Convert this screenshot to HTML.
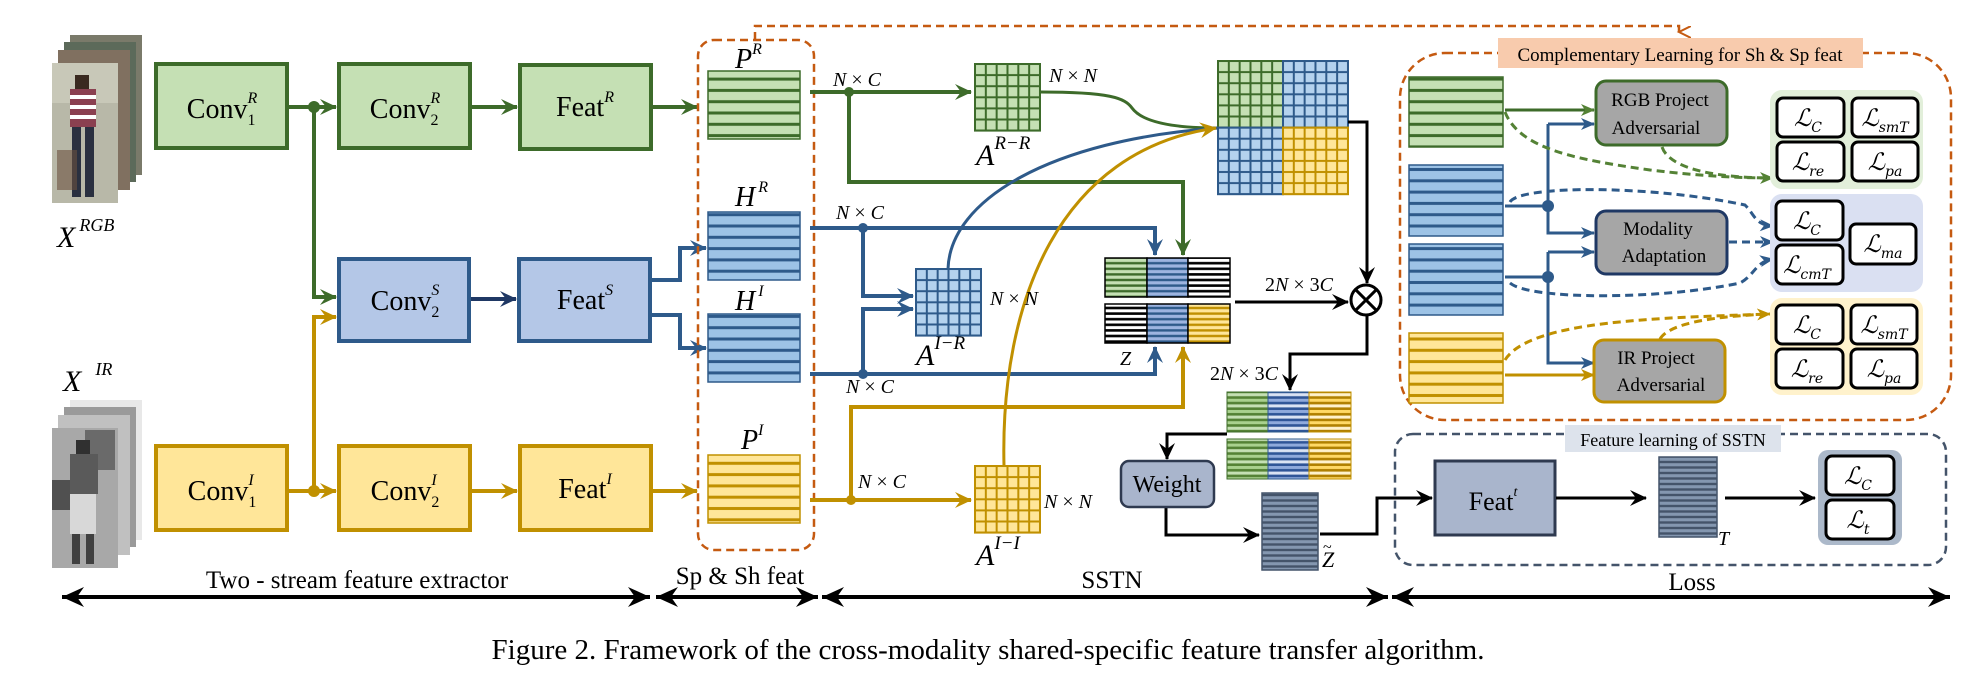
<!DOCTYPE html>
<html><head><meta charset="utf-8"><style>
html,body{margin:0;padding:0;background:#fff;}
svg{display:block;}
</style></head><body>
<svg width="1977" height="683" viewBox="0 0 1977 683" xmlns="http://www.w3.org/2000/svg" font-family="'Liberation Serif', serif">
<defs>
<marker id="aG" markerUnits="userSpaceOnUse" markerWidth="20" markerHeight="20" refX="16" refY="8" orient="auto"><path d="M0,0 L17,8 L0,16 L6,8 z" fill="#3d6b2a"/></marker>
<marker id="aB" markerUnits="userSpaceOnUse" markerWidth="20" markerHeight="20" refX="16" refY="8" orient="auto"><path d="M0,0 L17,8 L0,16 L6,8 z" fill="#2e5a8a"/></marker>
<marker id="aD" markerUnits="userSpaceOnUse" markerWidth="20" markerHeight="20" refX="16" refY="8" orient="auto"><path d="M0,0 L17,8 L0,16 L6,8 z" fill="#1f3864"/></marker>
<marker id="aY" markerUnits="userSpaceOnUse" markerWidth="20" markerHeight="20" refX="16" refY="8" orient="auto"><path d="M0,0 L17,8 L0,16 L6,8 z" fill="#c09000"/></marker>
<marker id="aK" markerUnits="userSpaceOnUse" markerWidth="20" markerHeight="20" refX="16" refY="8" orient="auto"><path d="M0,0 L17,8 L0,16 L6,8 z" fill="#000"/></marker>
<marker id="aGs" markerUnits="userSpaceOnUse" markerWidth="16" markerHeight="16" refX="13" refY="6" orient="auto"><path d="M0,0 L14,6 L0,12 L4,6 z" fill="#548235"/></marker>
<marker id="aBs" markerUnits="userSpaceOnUse" markerWidth="16" markerHeight="16" refX="13" refY="6" orient="auto"><path d="M0,0 L14,6 L0,12 L4,6 z" fill="#2e5a8a"/></marker>
<marker id="aYs" markerUnits="userSpaceOnUse" markerWidth="16" markerHeight="16" refX="13" refY="6" orient="auto"><path d="M0,0 L14,6 L0,12 L4,6 z" fill="#c09000"/></marker>
<marker id="aO" markerUnits="userSpaceOnUse" markerWidth="16" markerHeight="16" refX="6" refY="12" orient="auto"><path d="M0,0 L6,12 L12,0" fill="none" stroke="#c55a11" stroke-width="2"/></marker>
<marker id="aKb" markerUnits="userSpaceOnUse" markerWidth="24" markerHeight="20" refX="22" refY="10" orient="auto"><path d="M0,0 L22,10 L0,20 L7,10 z" fill="#000"/></marker>
<marker id="aKs" markerUnits="userSpaceOnUse" markerWidth="24" markerHeight="20" refX="2" refY="10" orient="auto"><path d="M24,0 L2,10 L24,20 L17,10 z" fill="#000"/></marker>

<pattern id="gG" patternUnits="userSpaceOnUse" width="10.83" height="11.1"><rect width="10.83" height="11.1" fill="#c5e0b4" stroke="#3d6b2a" stroke-width="2"/></pattern>
<pattern id="gB" patternUnits="userSpaceOnUse" width="10.83" height="11.1"><rect width="10.83" height="11.1" fill="#b4d2ee" stroke="#2e5a8a" stroke-width="2"/></pattern>
<pattern id="gY" patternUnits="userSpaceOnUse" width="10.83" height="11.1"><rect width="10.83" height="11.1" fill="#ffe699" stroke="#c09000" stroke-width="2"/></pattern>

<pattern id="sG" patternUnits="userSpaceOnUse" width="400" height="11.3"><rect width="400" height="11.3" fill="#3d6b2a"/><rect x="0" y="1.5" width="400" height="8.3" fill="#c5e0b4"/></pattern>
<pattern id="sB" patternUnits="userSpaceOnUse" width="400" height="11.3"><rect width="400" height="11.3" fill="#2e5a8a"/><rect x="0" y="1.5" width="400" height="8.3" fill="#9dc3e6"/></pattern>
<pattern id="sY" patternUnits="userSpaceOnUse" width="400" height="11.3"><rect width="400" height="11.3" fill="#c09000"/><rect x="0" y="1.5" width="400" height="8.3" fill="#ffe699"/></pattern>

<pattern id="zG" patternUnits="userSpaceOnUse" width="200" height="5.6"><rect width="200" height="5.6" fill="#3d6b2a"/><rect y="1.2" width="200" height="3.2" fill="#c5e0b4"/></pattern>
<pattern id="zB" patternUnits="userSpaceOnUse" width="200" height="5.6"><rect width="200" height="5.6" fill="#2e5a8a"/><rect y="1.2" width="200" height="3.2" fill="#9db4e0"/></pattern>
<pattern id="zY" patternUnits="userSpaceOnUse" width="200" height="5.6"><rect width="200" height="5.6" fill="#c09000"/><rect y="1.2" width="200" height="3.2" fill="#ffe699"/></pattern>
<pattern id="zW" patternUnits="userSpaceOnUse" width="200" height="5.6"><rect width="200" height="5.6" fill="#000"/><rect y="1.3" width="200" height="3" fill="#fff"/></pattern>
<pattern id="wG" patternUnits="userSpaceOnUse" width="200" height="11.2"><rect width="200" height="11.2" fill="#548235"/><rect y="1.2" width="200" height="3" fill="#c5e0b4"/><rect y="6.8" width="200" height="3" fill="#a9d18e"/></pattern>
<pattern id="wB" patternUnits="userSpaceOnUse" width="200" height="11.2"><rect width="200" height="11.2" fill="#2f5597"/><rect y="1.2" width="200" height="3" fill="#dae3f3"/><rect y="6.8" width="200" height="3" fill="#8faadc"/></pattern>
<pattern id="wY" patternUnits="userSpaceOnUse" width="200" height="11.2"><rect width="200" height="11.2" fill="#b08000"/><rect y="1.2" width="200" height="3" fill="#fff2cc"/><rect y="6.8" width="200" height="3" fill="#ffd966"/></pattern>
<pattern id="sT" patternUnits="userSpaceOnUse" width="200" height="5.5"><rect width="200" height="5.5" fill="#44546a"/><rect y="1.2" width="200" height="3.1" fill="#8497b0"/></pattern>
</defs>

<!-- input images -->
<g>
<rect x="70" y="35" width="72" height="140" fill="#7a7a6a"/>
<rect x="64" y="42" width="72" height="140" fill="#5c6a5a"/>
<rect x="58" y="50" width="72" height="140" fill="#807060"/>
<rect x="52" y="63" width="66" height="140" fill="#b8b8a8"/>
<rect x="52" y="63" width="66" height="40" fill="#c8c8b8"/>
<rect x="75" y="75" width="14" height="14" fill="#3a2a20"/>
<rect x="70" y="89" width="26" height="38" fill="#8a4050"/>
<rect x="70" y="95" width="26" height="4" fill="#fff"/><rect x="70" y="105" width="26" height="4" fill="#fff"/><rect x="70" y="115" width="26" height="4" fill="#fff"/>
<rect x="72" y="127" width="9" height="70" fill="#2a3040"/><rect x="85" y="127" width="9" height="70" fill="#2a3040"/>
<rect x="57" y="150" width="20" height="40" fill="#6a5040" opacity="0.6"/>

<rect x="70" y="400" width="72" height="140" fill="#e8e8e8"/>
<rect x="64" y="407" width="72" height="140" fill="#9a9a9a"/>
<rect x="58" y="415" width="72" height="140" fill="#c0c0c0"/>
<rect x="52" y="428" width="66" height="140" fill="#a8a8a8"/>
<rect x="85" y="430" width="30" height="40" fill="#6a6a6a"/>
<rect x="76" y="440" width="14" height="14" fill="#303030"/>
<rect x="70" y="454" width="28" height="40" fill="#5a5a5a"/>
<rect x="70" y="494" width="26" height="40" fill="#d8d8d8"/>
<rect x="72" y="534" width="8" height="30" fill="#404040"/><rect x="86" y="534" width="8" height="30" fill="#404040"/>
<rect x="52" y="480" width="18" height="30" fill="#505050"/>
</g>
<text x="57" y="247" font-size="30" font-style="italic">X<tspan font-size="18" dy="-16" dx="4">RGB</tspan></text>
<text x="63" y="391" font-size="30" font-style="italic">X<tspan font-size="18" dy="-16" dx="14">IR</tspan></text>

<!-- stream boxes -->
<g stroke-width="4">
<rect x="156" y="64" width="131" height="84" fill="#c5e0b4" stroke="#3d6b2a"/>
<rect x="339" y="64" width="131" height="84" fill="#c5e0b4" stroke="#3d6b2a"/>
<rect x="520" y="65" width="131" height="84" fill="#c5e0b4" stroke="#3d6b2a"/>
<rect x="339" y="259" width="130" height="82" fill="#b4c7e7" stroke="#2e5a8a"/>
<rect x="519" y="259" width="131" height="82" fill="#b4c7e7" stroke="#2e5a8a"/>
<rect x="156" y="446" width="131" height="84" fill="#ffe699" stroke="#c09000"/>
<rect x="339" y="446" width="131" height="84" fill="#ffe699" stroke="#c09000"/>
<rect x="520" y="446" width="131" height="84" fill="#ffe699" stroke="#c09000"/>
</g>
<g font-size="28" text-anchor="middle">
<text x="222" y="118">Conv<tspan font-size="16" dy="7">1</tspan><tspan font-size="16" font-style="italic" dx="-8" dy="-22">R</tspan></text>
<text x="405" y="118">Conv<tspan font-size="16" dy="7">2</tspan><tspan font-size="16" font-style="italic" dx="-8" dy="-22">R</tspan></text>
<text x="585" y="116">Feat<tspan font-size="16" font-style="italic" dy="-14">R</tspan></text>
<text x="405" y="310">Conv<tspan font-size="16" dy="7">2</tspan><tspan font-size="16" font-style="italic" dx="-8" dy="-22">S</tspan></text>
<text x="585" y="309">Feat<tspan font-size="16" font-style="italic" dy="-14">S</tspan></text>
<text x="222" y="500">Conv<tspan font-size="16" dy="7">1</tspan><tspan font-size="16" font-style="italic" dx="-8" dy="-22">I</tspan></text>
<text x="405" y="500">Conv<tspan font-size="16" dy="7">2</tspan><tspan font-size="16" font-style="italic" dx="-8" dy="-22">I</tspan></text>
<text x="585" y="498">Feat<tspan font-size="16" font-style="italic" dy="-14">I</tspan></text>
</g>

<!-- stream connectors -->
<g fill="none" stroke-width="4">
<path d="M289,107 H336" stroke="#3d6b2a" marker-end="url(#aG)"/>
<path d="M472,107 H517" stroke="#3d6b2a" marker-end="url(#aG)"/>
<path d="M653,107 H697" stroke="#3d6b2a" marker-end="url(#aG)"/>
<path d="M314,107 V297 H336" stroke="#3d6b2a" marker-end="url(#aG)"/>
<path d="M471,299 H516" stroke="#1f3864" marker-end="url(#aD)"/>
<path d="M652,280 H680 V248 H706" stroke="#2e5a8a" marker-end="url(#aB)"/>
<path d="M652,315 H680 V348 H706" stroke="#2e5a8a" marker-end="url(#aB)"/>
<path d="M289,491 H336" stroke="#c09000" marker-end="url(#aY)"/>
<path d="M472,491 H517" stroke="#c09000" marker-end="url(#aY)"/>
<path d="M653,491 H697" stroke="#c09000" marker-end="url(#aY)"/>
<path d="M314,491 V317 H336" stroke="#c09000" marker-end="url(#aY)"/>
</g>
<circle cx="314" cy="107" r="6" fill="#3d6b2a"/>
<circle cx="314" cy="491" r="6" fill="#c09000"/>

<!-- Sp & Sh feat box -->
<rect x="698" y="40" width="116" height="510" rx="16" fill="none" stroke="#c55a11" stroke-width="2.5" stroke-dasharray="8,5"/>
<path d="M755,40 V26 H1679 V32" fill="none" stroke="#c55a11" stroke-width="2.5" stroke-dasharray="8,5" marker-end="url(#aO)"/>
<g stroke-width="1.5">
<rect x="708" y="71" width="92" height="68" fill="url(#sG)" stroke="#3d6b2a"/>
<rect x="708" y="212" width="92" height="68" fill="url(#sB)" stroke="#2e5a8a"/>
<rect x="708" y="314" width="92" height="68" fill="url(#sB)" stroke="#2e5a8a"/>
<rect x="708" y="455" width="92" height="68" fill="url(#sY)" stroke="#c09000"/>
</g>
<g font-size="28" font-style="italic">
<text x="735" y="68">P<tspan font-size="16" dy="-14">R</tspan></text>
<text x="735" y="206">H<tspan font-size="16" dy="-14" dx="3">R</tspan></text>
<text x="735" y="310">H<tspan font-size="16" dy="-14" dx="3">I</tspan></text>
<text x="741" y="449">P<tspan font-size="16" dy="-14">I</tspan></text>
</g>

<!-- SSTN -->
<g fill="none" stroke-width="4">
<path d="M810,92 H971" stroke="#3d6b2a" marker-end="url(#aG)"/>
<path d="M849,92 V182 H1183 V255" stroke="#3d6b2a" marker-end="url(#aG)"/>
<path d="M1040,92 C1110,92 1125,98 1132,108 C1145,126 1190,128 1218,128" stroke="#3d6b2a" stroke-width="3"/>
<path d="M810,228 H1155 V255" stroke="#2e5a8a" marker-end="url(#aB)"/>
<path d="M810,374 H1155 V347" stroke="#2e5a8a" marker-end="url(#aB)"/>
<path d="M863,228 V296 H913" stroke="#2e5a8a" marker-end="url(#aB)"/>
<path d="M863,374 V309 H913" stroke="#2e5a8a" marker-end="url(#aB)"/>
<path d="M948,269 C950,200 1050,140 1218,128" stroke="#2e5a8a" stroke-width="3"/>
<path d="M810,500 H971" stroke="#c09000" marker-end="url(#aY)"/>
<path d="M851,500 V407 H1183 V347" stroke="#c09000" marker-end="url(#aY)"/>
<path d="M1004,466 C1000,300 1060,150 1216,128" stroke="#c09000" stroke-width="3" marker-end="url(#aY)"/>
</g>
<circle cx="849" cy="92" r="5" fill="#3d6b2a"/>
<circle cx="863" cy="228" r="5" fill="#2e5a8a"/>
<circle cx="863" cy="374" r="5" fill="#2e5a8a"/>
<circle cx="851" cy="500" r="5" fill="#c09000"/>

<g transform="translate(916,269)"><rect width="65" height="66.6" fill="url(#gB)" stroke="#2e5a8a" stroke-width="2"/></g>
<g transform="translate(975,466)"><rect width="65" height="66.6" fill="url(#gY)" stroke="#c09000" stroke-width="2"/></g>
<g transform="translate(975,64)"><rect width="65" height="66.6" fill="url(#gG)" stroke="#3d6b2a" stroke-width="2"/></g>
<g transform="translate(1218,61)">
<rect width="65" height="66.6" fill="url(#gG)" stroke="#3d6b2a" stroke-width="2"/>
<rect x="65" width="65" height="66.6" fill="url(#gB)" stroke="#2e5a8a" stroke-width="2"/>
<rect y="66.6" width="65" height="66.6" fill="url(#gB)" stroke="#2e5a8a" stroke-width="2"/>
<rect x="65" y="66.6" width="65" height="66.6" fill="url(#gY)" stroke="#c09000" stroke-width="2"/>
</g>

<g font-size="20" font-style="italic">
<text x="833" y="86">N <tspan font-style="normal">×</tspan> C</text>
<text x="1049" y="82">N <tspan font-style="normal">×</tspan> N</text>
<text x="836" y="219">N <tspan font-style="normal">×</tspan> C</text>
<text x="846" y="393">N <tspan font-style="normal">×</tspan> C</text>
<text x="990" y="305">N <tspan font-style="normal">×</tspan> N</text>
<text x="858" y="488">N <tspan font-style="normal">×</tspan> C</text>
<text x="1044" y="508">N <tspan font-style="normal">×</tspan> N</text>
<text x="1120" y="365">Z</text>
</g>
<g font-size="30" font-style="italic">
<text x="976" y="165">A<tspan font-size="19" dy="-16">R−R</tspan></text>
<text x="916" y="365">A<tspan font-size="19" dy="-16">I−R</tspan></text>
<text x="976" y="565">A<tspan font-size="19" dy="-16">I−I</tspan></text>
</g>

<!-- Z -->
<g stroke="#000" stroke-width="1.5">
<rect x="1105" y="258" width="42" height="39" fill="url(#zG)"/>
<rect x="1147" y="258" width="41" height="39" fill="url(#zB)"/>
<rect x="1188" y="258" width="42" height="39" fill="url(#zW)"/>
<rect x="1105" y="304" width="42" height="39" fill="url(#zW)"/>
<rect x="1147" y="304" width="41" height="39" fill="url(#zB)"/>
<rect x="1188" y="304" width="42" height="39" fill="url(#zY)"/>
</g>
<g fill="none" stroke="#000" stroke-width="3">
<path d="M1235,302 H1348" marker-end="url(#aK)"/>
<path d="M1348,122 H1367 V283" marker-end="url(#aK)"/>
<path d="M1367,316 V354 H1290 V390" marker-end="url(#aK)"/>
<path d="M1227,434 H1167 V459" marker-end="url(#aK)"/>
<path d="M1166,507 V535 H1259" marker-end="url(#aK)"/>
<path d="M1320,534 H1377 V498 H1432" marker-end="url(#aK)"/>
</g>
<circle cx="1366" cy="300" r="15" fill="#fff" stroke="#000" stroke-width="3"/>
<path d="M1355.4,289.4 L1376.6,310.6 M1376.6,289.4 L1355.4,310.6" stroke="#000" stroke-width="3"/>
<g font-size="20"><text x="1265" y="291">2<tspan font-style="italic">N</tspan> × 3<tspan font-style="italic">C</tspan></text>
<text x="1210" y="380">2<tspan font-style="italic">N</tspan> × 3<tspan font-style="italic">C</tspan></text></g>

<g stroke-width="1">
<rect x="1227" y="392" width="41" height="40" fill="url(#wG)" stroke="#3d6b2a"/>
<rect x="1268" y="392" width="41" height="40" fill="url(#wB)" stroke="#2e5a8a"/>
<rect x="1309" y="392" width="42" height="40" fill="url(#wY)" stroke="#c09000"/>
<rect x="1227" y="439" width="41" height="40" fill="url(#wG)" stroke="#3d6b2a"/>
<rect x="1268" y="439" width="41" height="40" fill="url(#wB)" stroke="#2e5a8a"/>
<rect x="1309" y="439" width="42" height="40" fill="url(#wY)" stroke="#c09000"/>
</g>
<rect x="1121" y="461" width="93" height="46" rx="8" fill="#a9b5cc" stroke="#2f3a50" stroke-width="2.5"/>
<text x="1167" y="492" font-size="24" text-anchor="middle">Weight</text>
<rect x="1262" y="493" width="56" height="77" fill="url(#sT)" stroke="#44546a" stroke-width="1.5"/>
<text x="1322" y="567" font-size="22" font-style="italic">Z</text>
<text x="1323" y="552" font-size="16">~</text>

<!-- Complementary learning -->
<rect x="1400" y="53" width="551" height="367" rx="45" fill="none" stroke="#c55a11" stroke-width="2.5" stroke-dasharray="8,5"/>
<rect x="1498" y="38" width="365" height="30" fill="#f8cbad"/>
<text x="1680" y="61" font-size="19" text-anchor="middle">Complementary Learning for Sh &amp; Sp feat</text>
<g stroke-width="1.5">
<rect x="1409" y="77" width="94" height="70" fill="url(#sG)" stroke="#3d6b2a"/>
<rect x="1409" y="165" width="94" height="71" fill="url(#sB)" stroke="#2e5a8a"/>
<rect x="1409" y="244" width="94" height="71" fill="url(#sB)" stroke="#2e5a8a"/>
<rect x="1409" y="333" width="94" height="70" fill="url(#sY)" stroke="#c09000"/>
</g>
<g fill="none" stroke-width="3">
<path d="M1505,110 H1594" stroke="#3d6b2a" marker-end="url(#aGs)"/>
<path d="M1505,206 H1548 M1505,277 H1548" stroke="#2e5a8a"/>
<path d="M1548,124 V233 H1594" stroke="#2e5a8a" marker-end="url(#aBs)"/>
<path d="M1548,124 H1594" stroke="#2e5a8a" marker-end="url(#aBs)"/>
<path d="M1548,252 H1594" stroke="#2e5a8a" marker-end="url(#aBs)"/>
<path d="M1548,252 V363 H1594" stroke="#2e5a8a" marker-end="url(#aBs)"/>
<path d="M1505,375 H1594" stroke="#c09000" marker-end="url(#aYs)"/>
<g stroke-dasharray="8,5">
<path d="M1505,112 C1520,150 1580,160 1650,170 C1700,176 1740,178 1773,178" stroke="#548235" marker-end="url(#aGs)"/>
<path d="M1662,147 C1670,170 1720,178 1773,178" stroke="#548235"/>
<path d="M1510,202 C1520,185 1650,185 1745,205 C1755,215 1755,225 1773,226" stroke="#2e5a8a" marker-end="url(#aBs)"/>
<path d="M1729,242 H1773" stroke="#2e5a8a" marker-end="url(#aBs)"/>
<path d="M1510,283 C1530,300 1660,300 1740,283 C1755,275 1755,262 1773,259" stroke="#2e5a8a" marker-end="url(#aBs)"/>
<path d="M1505,360 C1530,320 1660,318 1770,314" stroke="#c09000" marker-end="url(#aYs)"/>
<path d="M1660,339 C1670,322 1720,316 1770,314" stroke="#c09000"/>
</g>
</g>
<circle cx="1548" cy="206" r="6" fill="#2e5a8a"/>
<circle cx="1548" cy="277" r="6" fill="#2e5a8a"/>
<g stroke-width="3" fill="#a6a6a6">
<rect x="1596" y="81" width="131" height="64" rx="10" stroke="#3d6b2a"/>
<rect x="1596" y="211" width="131" height="63" rx="10" stroke="#1f3864"/>
<rect x="1594" y="340" width="131" height="62" rx="10" stroke="#c09000"/>
</g>
<g font-size="19" text-anchor="middle">
<text x="1660" y="106">RGB Project</text><text x="1656" y="134">Adversarial</text>
<text x="1658" y="235">Modality</text><text x="1664" y="262">Adaptation</text>
<text x="1656" y="364">IR Project</text><text x="1661" y="391">Adversarial</text>
</g>
<rect x="1770" y="90" width="153" height="99" rx="12" fill="#e2efda"/>
<rect x="1770" y="194" width="153" height="98" rx="12" fill="#dae0f2"/>
<rect x="1770" y="298" width="153" height="97" rx="12" fill="#fff2cc"/>
<g fill="#fff" stroke="#000" stroke-width="3">
<rect x="1777" y="98" width="67" height="39" rx="6"/><rect x="1852" y="98" width="66" height="39" rx="6"/>
<rect x="1777" y="142" width="67" height="39" rx="6"/><rect x="1852" y="142" width="66" height="39" rx="6"/>
<rect x="1776" y="201" width="67" height="39" rx="6"/><rect x="1776" y="245" width="67" height="39" rx="6"/>
<rect x="1850" y="224" width="66" height="40" rx="6"/>
<rect x="1776" y="305" width="67" height="39" rx="6"/><rect x="1851" y="305" width="66" height="39" rx="6"/>
<rect x="1776" y="349" width="67" height="39" rx="6"/><rect x="1851" y="349" width="66" height="39" rx="6"/>
</g>
<g font-family="'DejaVu Serif',serif" font-style="italic" font-size="24" text-anchor="middle">
<text x="1808" y="126">ℒ<tspan font-size="14" dy="6">C</tspan></text>
<text x="1885" y="126">ℒ<tspan font-size="14" dy="6">smT</tspan></text>
<text x="1808" y="170">ℒ<tspan font-size="14" dy="6">re</tspan></text>
<text x="1885" y="170">ℒ<tspan font-size="14" dy="6">pa</tspan></text>
<text x="1807" y="229">ℒ<tspan font-size="14" dy="6">C</tspan></text>
<text x="1807" y="273">ℒ<tspan font-size="14" dy="6">cmT</tspan></text>
<text x="1883" y="252">ℒ<tspan font-size="14" dy="6">ma</tspan></text>
<text x="1807" y="333">ℒ<tspan font-size="14" dy="6">C</tspan></text>
<text x="1884" y="333">ℒ<tspan font-size="14" dy="6">smT</tspan></text>
<text x="1807" y="377">ℒ<tspan font-size="14" dy="6">re</tspan></text>
<text x="1884" y="377">ℒ<tspan font-size="14" dy="6">pa</tspan></text>
</g>

<!-- Feature learning of SSTN -->
<rect x="1395" y="434" width="551" height="131" rx="18" fill="none" stroke="#44546a" stroke-width="2.5" stroke-dasharray="8,5"/>
<rect x="1565" y="425" width="216" height="27" fill="#dde3ec"/>
<text x="1673" y="446" font-size="18" text-anchor="middle">Feature learning of SSTN</text>
<rect x="1435" y="461" width="120" height="74" fill="#a9b5cc" stroke="#2f3a50" stroke-width="3"/>
<text x="1493" y="510" font-size="26" text-anchor="middle">Feat<tspan font-size="14" font-style="italic" dy="-14">t</tspan></text>
<rect x="1659" y="457" width="58" height="80" fill="url(#sT)" stroke="#44546a" stroke-width="1.5"/>
<text x="1718" y="545" font-size="20" font-style="italic">T</text>
<g fill="none" stroke="#000" stroke-width="3">
<path d="M1556,498 H1646" marker-end="url(#aK)"/>
<path d="M1725,498 H1815" marker-end="url(#aK)"/>
</g>
<rect x="1818" y="450" width="84" height="95" rx="10" fill="#acb9ca"/>
<g fill="#fff" stroke="#000" stroke-width="3">
<rect x="1826" y="456" width="68" height="39" rx="6"/><rect x="1826" y="500" width="68" height="39" rx="6"/>
</g>
<g font-family="'DejaVu Serif',serif" font-style="italic" font-size="24" text-anchor="middle">
<text x="1858" y="484">ℒ<tspan font-size="14" dy="6">C</tspan></text>
<text x="1858" y="528">ℒ<tspan font-size="14" dy="6">t</tspan></text>
</g>

<!-- bottom arrows -->
<g stroke="#000" stroke-width="4" fill="none">
<path d="M62,597 H650" marker-start="url(#aKs)" marker-end="url(#aKb)"/>
<path d="M656,597 H818" marker-start="url(#aKs)" marker-end="url(#aKb)"/>
<path d="M822,597 H1388" marker-start="url(#aKs)" marker-end="url(#aKb)"/>
<path d="M1392,597 H1950" marker-start="url(#aKs)" marker-end="url(#aKb)"/>
</g>
<g font-size="25" text-anchor="middle">
<text x="357" y="588">Two - stream feature extractor</text>
<text x="740" y="584">Sp &amp; Sh feat</text>
<text x="1112" y="588">SSTN</text>
<text x="1692" y="590">Loss</text>
</g>
<text x="988" y="659" font-size="29" text-anchor="middle">Figure 2. Framework of the cross-modality shared-specific feature transfer algorithm.</text>
</svg>
</body></html>
